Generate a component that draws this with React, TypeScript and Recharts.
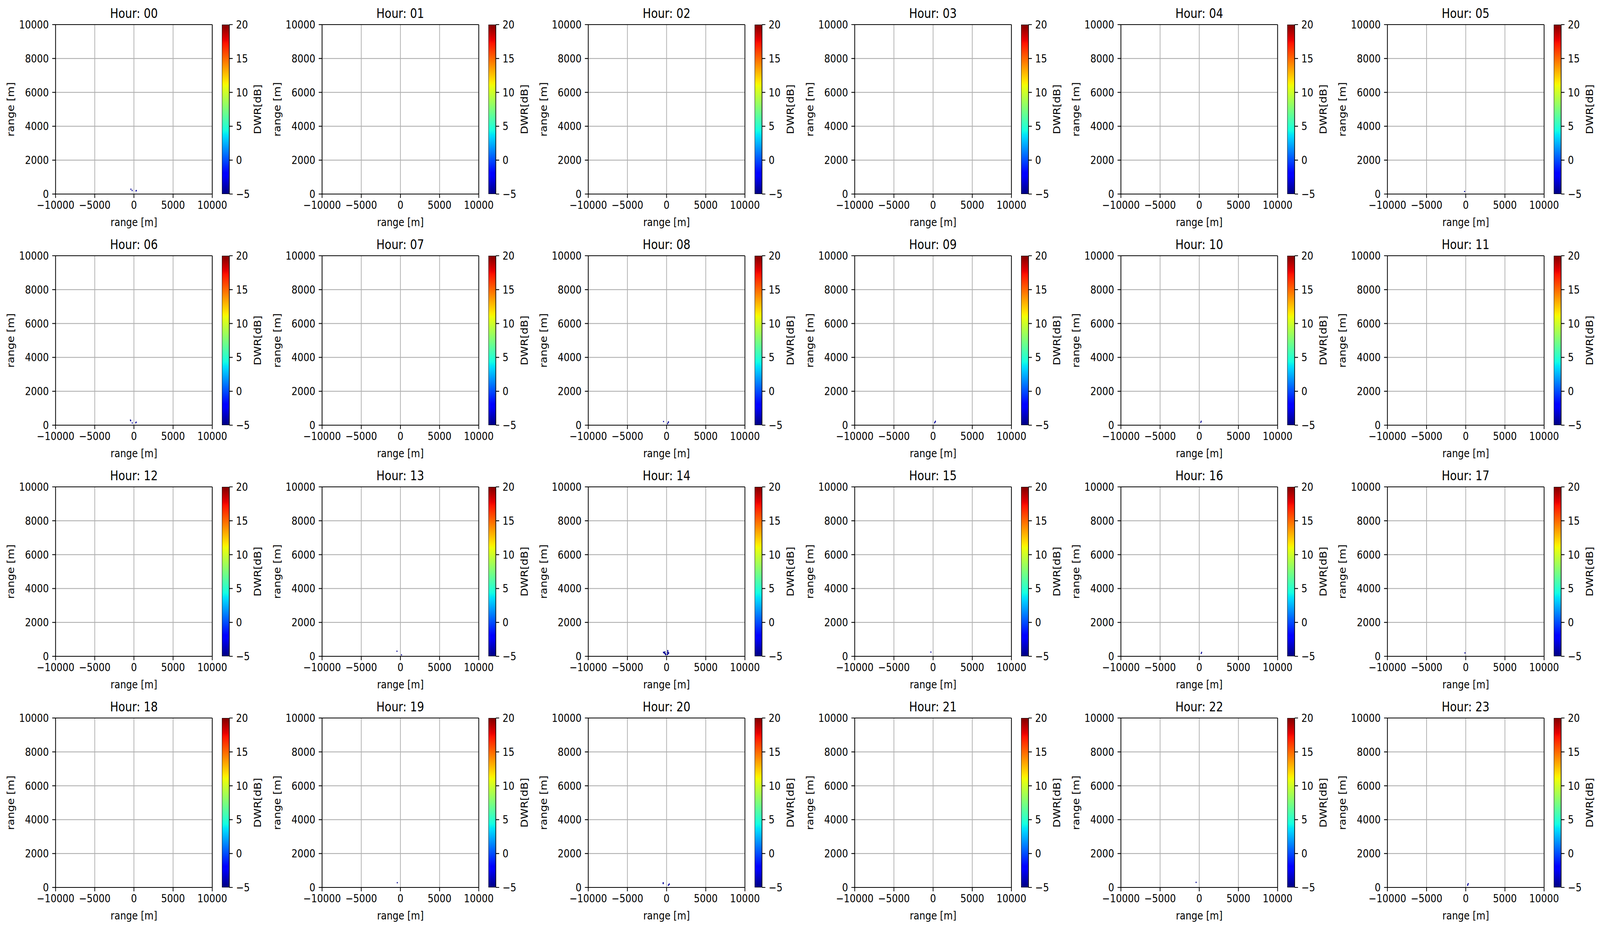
import * as React from 'react';
import {
  Bar,
  BarChart,
  CartesianGrid,
  ReferenceLine,
  Scatter,
  ScatterChart,
  XAxis,
  YAxis
} from 'recharts';

type Echo = { x: number; y: number; dwr: number };

const HOURS = [
  '00', '01', '02', '03', '04', '05', '06', '07', '08', '09', '10', '11',
  '12', '13', '14', '15', '16', '17', '18', '19', '20', '21', '22', '23'
];

const X_TICKS = [-10000, -5000, 0, 5000, 10000];
const Y_TICKS = [0, 2000, 4000, 6000, 8000, 10000];
const DWR_TICKS = [-5, 0, 5, 10, 15, 20];

// the few non-empty pixels near the radar in each hour (x, y in m, DWR in dB)
const echoes00: Echo[] = [
  { x: -385, y: 285, dwr: -4.6 },
  { x: -228, y: 207, dwr: -4.4 },
  { x: 270, y: 184, dwr: -4.5 },
  { x: 300, y: 207, dwr: -4.3 }
];
const echoes05: Echo[] = [{ x: -150, y: 150, dwr: -4.7 }];
const echoes06: Echo[] = [
  { x: -442, y: 300, dwr: -4.6 },
  { x: -413, y: 261, dwr: -4.5 },
  { x: -214, y: 131, dwr: -4.6 },
  { x: 285, y: 177, dwr: -4.4 },
  { x: 242, y: 138, dwr: -4.6 }
];
const echoes08: Echo[] = [
  { x: -385, y: 215, dwr: -4.5 },
  { x: 242, y: 192, dwr: -4.4 },
  { x: 200, y: 154, dwr: -4.6 },
  { x: 128, y: 85, dwr: -4.5 }
];
const echoes09: Echo[] = [
  { x: 300, y: 230, dwr: -4.5 },
  { x: 242, y: 177, dwr: -4.6 },
  { x: 200, y: 138, dwr: -4.5 }
];
const echoes10: Echo[] = [
  { x: 250, y: 230, dwr: -4.6 },
  { x: 200, y: 170, dwr: -4.6 }
];
const echoes13: Echo[] = [
  { x: -442, y: 300, dwr: -4.6 },
  { x: 142, y: 85, dwr: -4.5 }
];
const echoes14: Echo[] = [
  { x: -399, y: 238, dwr: -4.6 },
  { x: -356, y: 223, dwr: -4.5 },
  { x: -299, y: 230, dwr: -4.6 },
  { x: -314, y: 200, dwr: -4.4 },
  { x: -257, y: 207, dwr: -4.5 },
  { x: -242, y: 184, dwr: -4.6 },
  { x: -200, y: 169, dwr: -4.5 },
  { x: -171, y: 146, dwr: -4.6 },
  { x: -128, y: 131, dwr: -4.5 },
  { x: -128, y: 92, dwr: -4.6 },
  { x: -214, y: 261, dwr: -4.6 },
  { x: 143, y: 338, dwr: -4.5 },
  { x: 157, y: 292, dwr: -4.6 },
  { x: 114, y: 215, dwr: -4.5 },
  { x: 228, y: 215, dwr: -4.6 },
  { x: 271, y: 192, dwr: -4.5 },
  { x: 200, y: 161, dwr: -4.6 },
  { x: 143, y: 131, dwr: -4.5 },
  { x: 86, y: 100, dwr: -4.6 }
];
const echoes15: Echo[] = [{ x: -280, y: 250, dwr: -4.6 }];
const echoes16: Echo[] = [
  { x: 300, y: 230, dwr: -4.6 },
  { x: 250, y: 170, dwr: -4.5 }
];
const echoes17: Echo[] = [{ x: -100, y: 200, dwr: -4.7 }];
const echoes19: Echo[] = [{ x: -400, y: 280, dwr: -4.6 }];
const echoes20: Echo[] = [
  { x: -428, y: 276, dwr: -4.6 },
  { x: -428, y: 253, dwr: -4.6 },
  { x: -428, y: 230, dwr: -4.6 },
  { x: 342, y: 200, dwr: -4.5 },
  { x: 300, y: 169, dwr: -4.6 },
  { x: 228, y: 130, dwr: -4.5 }
];
const echoes22: Echo[] = [{ x: -400, y: 300, dwr: -4.7 }];
const echoes23: Echo[] = [
  { x: 313, y: 223, dwr: -4.6 },
  { x: 270, y: 169, dwr: -4.5 },
  { x: 242, y: 130, dwr: -4.6 }
];

const echoesByHour: Record<string, Echo[]> = {
  '00': echoes00, '05': echoes05, '06': echoes06, '08': echoes08,
  '09': echoes09, '10': echoes10, '13': echoes13, '14': echoes14,
  '15': echoes15, '16': echoes16, '17': echoes17, '19': echoes19,
  '20': echoes20, '22': echoes22, '23': echoes23
};

const FONT = '"DejaVu Sans", sans-serif';
const DWR_MIN = -5;
const DWR_MAX = 20;

// matplotlib "jet" segment data
const JET_R = [[0, 0], [0.35, 0], [0.66, 1], [0.89, 1], [1, 0.5]];
const JET_G = [[0, 0], [0.125, 0], [0.375, 1], [0.64, 1], [0.91, 0], [1, 0]];
const JET_B = [[0, 0.5], [0.11, 1], [0.34, 1], [0.65, 0], [1, 0]];
const JET_STOPS = [0, 0.11, 0.125, 0.34, 0.35, 0.375, 0.64, 0.65, 0.66, 0.89, 0.91, 1];

function seg(t: number, s: number[][]) {
  for (let i = 1; i < s.length; i++) {
    if (t <= s[i][0]) {
      const [x0, y0] = s[i - 1];
      const [x1, y1] = s[i];
      return y0 + ((t - x0) / (x1 - x0)) * (y1 - y0);
    }
  }
  return s[s.length - 1][1];
}

function jet(t: number) {
  const c = Math.max(0, Math.min(1, t));
  const h = (v: number) => Math.round(v * 255).toString(16).padStart(2, '0');
  return `#${h(seg(c, JET_R))}${h(seg(c, JET_G))}${h(seg(c, JET_B))}`;
}

const dwrColor = (v: number) => jet((v - DWR_MIN) / (DWR_MAX - DWR_MIN));
const minus = (v: number) => String(v).replace('-', '\u2212');

const tickStyle = { fill: '#000', fontSize: 28, fontFamily: FONT };
const lineStyle = { stroke: '#000', strokeWidth: 2.2 };

const FIG_W = 4779;
const FIG_H = 2382;
const PANEL_W = 795.5;
const PANEL_H = 592;

function EchoPixel(props: any) {
  const { cx, cy, payload } = props;
  if (cx == null || cy == null) return null;
  return <rect x={cx - 1.5} y={cy - 1.5} width={3} height={3} fill={dwrColor(payload.dwr)} />;
}

function HourPanel({ hour, index }: { hour: string; index: number }) {
  const col = index % 6;
  const row = Math.floor(index / 6);
  const data = echoesByHour[hour] ?? [];
  const gradId = `jet-${hour}`;
  return (
    <div style={{ position: 'absolute', left: col * PANEL_W, top: row * PANEL_H, width: 796, height: PANEL_H }}>
      <div
        style={{
          position: 'absolute',
          left: 166,
          top: 18,
          width: 468,
          textAlign: 'center',
          fontFamily: FONT,
          fontSize: 33,
          lineHeight: '33px',
          color: '#000'
        }}
      >
        Hour: {hour}
      </div>

      <div style={{ position: 'absolute', left: 0, top: 0 }}>
        <ScatterChart width={795} height={PANEL_H} margin={{ top: 63, right: 161, bottom: 13, left: 0 }}>
          <CartesianGrid stroke="#b0b0b0" strokeWidth={2.2} />
          <XAxis
            type="number"
            dataKey="x"
            domain={[-10000, 10000]}
            ticks={X_TICKS}
            interval={0}
            allowDataOverflow
            height={82}
            tick={tickStyle}
            tickFormatter={minus}
            tickSize={10}
            tickMargin={8}
            axisLine={lineStyle}
            tickLine={lineStyle}
            label={{ value: 'range [m]', position: 'insideBottom', offset: 0, fill: '#000', fontSize: 28, fontFamily: FONT }}
          />
          <YAxis
            type="number"
            dataKey="y"
            domain={[0, 10000]}
            ticks={Y_TICKS}
            interval={0}
            allowDataOverflow
            width={166}
            tick={tickStyle}
            tickSize={10}
            tickMargin={10}
            axisLine={lineStyle}
            tickLine={lineStyle}
            label={{
              value: 'range [m]',
              angle: -90,
              position: 'insideLeft',
              offset: 32,
              fill: '#000',
              fontSize: 28,
              fontFamily: FONT,
              style: { textAnchor: 'middle' }
            }}
          />
          <Scatter data={data} shape={<EchoPixel />} isAnimationActive={false} />
          <ReferenceLine y={10000} stroke="#000" strokeWidth={2.2} />
          <ReferenceLine x={10000} stroke="#000" strokeWidth={2.2} />
        </ScatterChart>
      </div>

      <div style={{ position: 'absolute', left: 663, top: 0 }}>
        <BarChart
          width={132}
          height={PANEL_H}
          data={[{ name: 'DWR', span: [DWR_MIN, DWR_MAX] }]}
          margin={{ top: 63, right: 0, bottom: 95, left: 0 }}
          barCategoryGap={0}
        >
          <defs>
            <linearGradient id={gradId} x1="0" y1="1" x2="0" y2="0">
              {JET_STOPS.map((s) => (
                <stop key={s} offset={s} stopColor={jet(s)} />
              ))}
            </linearGradient>
          </defs>
          <XAxis dataKey="name" hide />
          <YAxis
            orientation="right"
            type="number"
            domain={[DWR_MIN, DWR_MAX]}
            ticks={DWR_TICKS}
            interval={0}
            allowDataOverflow
            width={110}
            tick={tickStyle}
            tickFormatter={minus}
            tickSize={10}
            tickMargin={10}
            axisLine={false}
            tickLine={lineStyle}
            label={{
              value: 'DWR[dB]',
              angle: -90,
              position: 'insideLeft',
              offset: 85,
              fill: '#000',
              fontSize: 28,
              fontFamily: FONT,
              style: { textAnchor: 'middle' }
            }}
          />
          <Bar dataKey="span" fill={`url(#${gradId})`} stroke="#000" strokeWidth={2} isAnimationActive={false} />
        </BarChart>
      </div>
    </div>
  );
}

// the window may be narrower than the figure; stretch the figure to fill it
function useViewport() {
  const read = () => ({
    w: typeof window !== 'undefined' ? window.innerWidth || FIG_W : FIG_W,
    h: typeof window !== 'undefined' ? window.innerHeight || FIG_H : FIG_H
  });
  const [vp, setVp] = React.useState(read);
  React.useEffect(() => {
    const onResize = () => setVp(read());
    window.addEventListener('resize', onResize);
    return () => window.removeEventListener('resize', onResize);
  }, []);
  return vp;
}

export default function App() {
  const { w, h } = useViewport();
  const sx = w / FIG_W;
  const sy = h / FIG_H;
  React.useEffect(() => {
    document.body.style.margin = '0';
    document.body.style.overflow = 'hidden';
  }, []);
  return (
    <div
      style={{
        position: 'absolute',
        left: 0,
        top: 0,
        width: FIG_W,
        height: FIG_H,
        background: '#fff',
        transformOrigin: '0 0',
        transform: `scale(${sx}, ${sy})`
      }}
    >
      {HOURS.map((hr, i) => (
        <HourPanel key={hr} hour={hr} index={i} />
      ))}
    </div>
  );
}
